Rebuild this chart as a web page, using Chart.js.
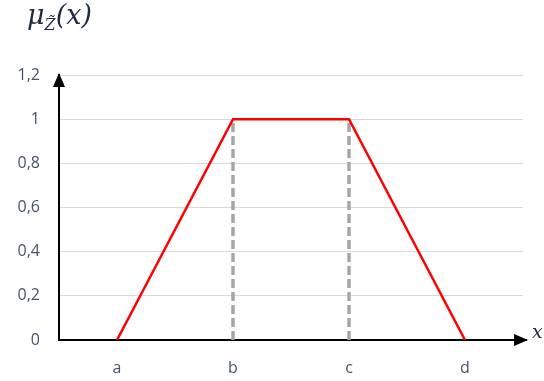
<!DOCTYPE html>
<html>
<head>
<meta charset="utf-8">
<script src="https://cdn.jsdelivr.net/npm/chart.js@4"></script>
<style>
  html, body { margin: 0; padding: 0; background: #fff; }
  #wrap { position: relative; width: 544px; height: 381px; }
  #yTitle {
    position: absolute; left: 27px; top: -1px;
    font-family: 'DejaVu Serif', 'Liberation Serif', serif; font-style: italic;
    font-size: 27px; color: #1f2a44;
  }
  #yTitle sub { font-size: 16px; vertical-align: -6px; }
  #xTitle {
    position: absolute; left: 532px; top: 320px;
    font-family: 'DejaVu Serif', 'Liberation Serif', serif; font-style: italic;
    font-size: 19px; color: #1f2a44;
  }
</style>
</head>
<body>
<div id="wrap">
  <canvas id="c" width="544" height="381"></canvas>
  <div id="yTitle">μ<sub>Z̃</sub>(x)</div>
  <div id="xTitle">x</div>
</div>
<script>
// categories and membership values
const labels = ['a', 'b', 'c', 'd'];
const membership = [0, 1, 1, 0];
// vertical drop lines from the plateau corners
const dropB = [{ x: 'b', y: 0 }, { x: 'b', y: 1 }];
const dropC = [{ x: 'c', y: 0 }, { x: 'c', y: 1 }];

const Y_MIN = 0, Y_MAX = 1.2, Y_STEP = 0.2;

const TICK_COLOR = '#44546a';

// arrow heads at the ends of both axes
const axisArrows = {
  id: 'axisArrows',
  afterDraw(chart) {
    const { ctx, chartArea: a } = chart;
    ctx.save();
    ctx.fillStyle = '#000';
    ctx.strokeStyle = '#000';
    ctx.lineWidth = 2;
    // y axis arrow
    ctx.beginPath();
    ctx.moveTo(a.left, a.top - 2);
    ctx.lineTo(a.left - 6, a.top + 12);
    ctx.lineTo(a.left + 6, a.top + 12);
    ctx.closePath();
    ctx.fill();
    // x axis line extension + arrow
    ctx.beginPath();
    ctx.moveTo(a.right, a.bottom);
    ctx.lineTo(a.right + 4, a.bottom);
    ctx.stroke();
    ctx.beginPath();
    ctx.moveTo(a.right + 5, a.bottom);
    ctx.lineTo(a.right - 9, a.bottom - 6);
    ctx.lineTo(a.right - 9, a.bottom + 6);
    ctx.closePath();
    ctx.fill();
    ctx.restore();
  }
};

new Chart(document.getElementById('c'), {
  type: 'line',
  data: {
    labels: labels,
    datasets: [
      {
        data: membership,
        borderColor: '#ff0000',
        borderWidth: 2.5,
        pointRadius: 0,
        tension: 0,
        order: 0
      },
      {
        data: dropB,
        borderColor: '#a6a6a6',
        borderWidth: 3.5,
        borderDash: [9, 4],
        pointRadius: 0,
        order: 1
      },
      {
        data: dropC,
        borderColor: '#a6a6a6',
        borderWidth: 3.5,
        borderDash: [9, 4],
        pointRadius: 0,
        order: 1
      }
    ]
  },
  options: {
    responsive: false,
    animation: false,
    layout: { padding: { top: 75, right: 21, left: 0, bottom: 0 } },
    plugins: { legend: { display: false }, tooltip: { enabled: false } },
    scales: {
      x: {
        type: 'category',
        offset: true,
        grid: { display: false, drawTicks: false },
        border: { color: '#000', width: 2 },
        ticks: {
          color: TICK_COLOR,
          padding: 19,
          font: { family: 'Open Sans', size: 16 }
        },
        afterFit(scale) { scale.height = 41; }
      },
      y: {
        min: Y_MIN,
        max: Y_MAX,
        grid: {
          color: ctx => ctx.tick.value === 0 ? 'rgba(0,0,0,0)' : '#d9d9d9',
          lineWidth: 1,
          drawTicks: false
        },
        border: { color: '#000', width: 2 },
        ticks: {
          stepSize: Y_STEP,
          color: TICK_COLOR,
          padding: 19,
          font: { family: 'Open Sans', size: 16 },
          callback: v => String(Math.round(v * 10) / 10).replace('.', ',')
        },
        afterFit(scale) { scale.width = 59; }
      }
    }
  },
  plugins: [axisArrows]
});
</script>
</body>
</html>
